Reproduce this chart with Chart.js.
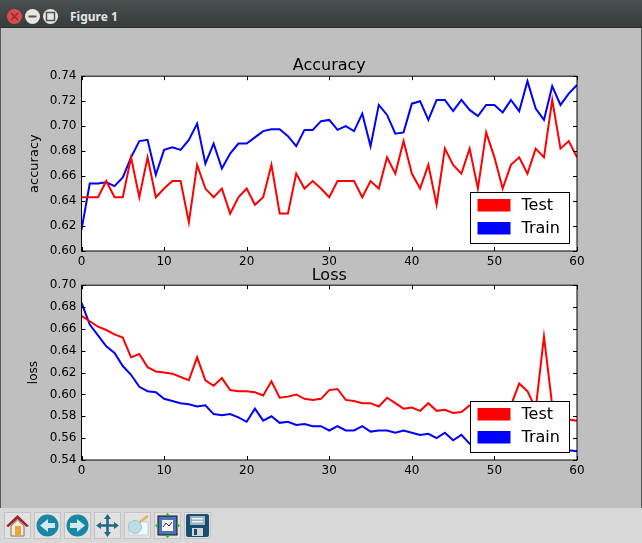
<!DOCTYPE html>
<html>
<head>
<meta charset="utf-8">
<title>Figure 1</title>
<script src="https://cdn.jsdelivr.net/npm/chart.js@4"></script>
<style>
html, body { margin: 0; padding: 0; background: #bfbfbf; }
#win { position: relative; width: 642px; height: 543px; overflow: hidden; background: #bfbfbf; font-family: "DejaVu Sans", sans-serif; }
#bar { position: absolute; left: 0; top: 0; width: 642px; height: 27px; background: linear-gradient(#4a4f4f, #363b3b); border-bottom: 1px solid #2a2d2d; }
#bar .name { position: absolute; left: 70px; top: 8px; color: #e6e6e6; font: bold 12px "Noto Sans", "DejaVu Sans", sans-serif; }
.btn { position: absolute; top: 9px; width: 15px; height: 15px; border-radius: 50%; background: #e8e6e0; }
.btn svg { display: block; width: 15px; height: 15px; }
.edge { position: absolute; top: 28px; width: 1px; height: 515px; background: #555a5a; }
#tools { position: absolute; left: 0; top: 508px; width: 642px; height: 35px; background: #d8d8d8; }
.tool { position: absolute; top: 4px; width: 27px; height: 27px; background: #e2e2e2; border: 1px solid #c4c4c4; box-sizing: border-box; }
.tool svg { display: block; width: 25px; height: 25px; }
canvas { position: absolute; }
#c1 { left: 0; top: 50px; }
#c2 { left: 0; top: 259px; }
</style>
</head>
<body>
<div id="win">
  <div id="bar">
    <div class="btn" style="left:7px;background:#df4a4f"><svg viewBox="0 0 15 15"><path d="M4 4l7 7M11 4l-7 7" stroke="#8c2a2d" stroke-width="1.500"/></svg></div>
    <div class="btn" style="left:25px"><svg viewBox="0 0 15 15"><path d="M3.500 7.500h8" stroke="#555" stroke-width="2"/></svg></div>
    <div class="btn" style="left:43px"><svg viewBox="0 0 15 15"><rect x="3.500" y="3.500" width="8" height="8" fill="none" stroke="#555" stroke-width="1.500"/></svg></div>
    <div class="name">Figure 1</div>
  </div>
  <div class="edge" style="left:0"></div>
  <div class="edge" style="left:641px"></div>
  <canvas id="c1" width="642" height="223" style="width:642px;height:223px"></canvas>
  <canvas id="c2" width="642" height="223" style="width:642px;height:223px"></canvas>
  <div id="tools">
    <div class="tool" style="left:4px"><svg viewBox="0 0 25 25"><path d="M1 13 12.500 2 24 13l-2.500 1-9-8-9 8z" fill="#a5202c"/><path d="M6 13l6.500-6 6.500 6v10H6z" fill="#f3ead8" stroke="#777"/><rect x="10" y="13" width="6" height="10" fill="#eda23c"/></svg></div>
    <div class="tool" style="left:34px"><svg viewBox="0 0 25 25"><circle cx="12.500" cy="12.500" r="11" fill="#1b86a3"/><path d="M5 12.500 13 6v4h7v5h-7v4z" fill="#cfe9ef"/></svg></div>
    <div class="tool" style="left:64px"><svg viewBox="0 0 25 25"><circle cx="12.500" cy="12.500" r="11" fill="#1b86a3"/><path d="M20 12.500 12 6v4H5v5h7v4z" fill="#cfe9ef"/></svg></div>
    <div class="tool" style="left:94px"><svg viewBox="0 0 25 25"><path d="M12.500 1 16 6h-2.200v5.200H19V9l5 3.500-5 3.500v-2.200h-5.200V19H16l-3.500 5L9 19h2.200v-5.200H6V16l-5-3.500L6 9v2.200h5.200V6H9z" fill="#1f6b87"/></svg></div>
    <div class="tool" style="left:124px"><svg viewBox="0 0 25 25"><rect x="4" y="9" width="19" height="13" fill="#f4fafc" stroke="#b8d4de"/><circle cx="10" cy="14" r="6.500" fill="#bcdde8" stroke="#9cc4d2"/><path d="M14 8 22 2l1.500 2-8 6z" fill="#eeaa66"/></svg></div>
    <div class="tool" style="left:154px"><svg viewBox="0 0 25 25"><rect x="3" y="3" width="19" height="19" fill="#4f71b5" stroke="#111"/><rect x="7" y="7" width="11" height="11" fill="#f4f4f4"/><path d="M8 14l3-4 3 3 3-4" fill="none" stroke="#333"/><path d="M12.500 0l3 3h-6zM12.500 25l3-3h-6zM0 12.500l3-3v6zM25 12.500l-3-3v6z" fill="#35b035"/></svg></div>
    <div class="tool" style="left:184px"><svg viewBox="0 0 25 25"><rect x="1" y="1" width="23" height="23" rx="2" fill="#17506f"/><rect x="5" y="3" width="15" height="9" fill="#9fb3c0"/><rect x="7" y="5" width="11" height="1.500" fill="#eef"/><rect x="7" y="8" width="11" height="1.500" fill="#eef"/><rect x="7" y="15" width="11" height="8" fill="#d5d5d5"/><rect x="9" y="16" width="3" height="6" fill="#17506f"/></svg></div>
  </div>
</div>
<script>
// epochs on the x axis
var epochs = [];
for (var e = 0; e <= 60; e++) epochs.push(e);

var seriesNames = ['Test', 'Train'];
var xTicks = [0, 10, 20, 30, 40, 50, 60];
var accTicks = [0.60, 0.62, 0.64, 0.66, 0.68, 0.70, 0.72, 0.74];
var lossTicks = [0.54, 0.56, 0.58, 0.60, 0.62, 0.64, 0.66, 0.68, 0.70];

var accTest = [0.643,0.643,0.643,0.656,0.643,0.643,0.675,0.643,0.675,0.643,
  0.650,0.656,0.656,0.623,0.669,0.650,0.643,0.650,0.630,0.643,
  0.650,0.637,0.643,0.669,0.630,0.630,0.662,0.650,0.656,0.650,
  0.643,0.656,0.656,0.656,0.643,0.656,0.650,0.675,0.662,0.688,
  0.662,0.650,0.669,0.637,0.682,0.669,0.662,0.682,0.650,0.695,
  0.675,0.650,0.669,0.675,0.662,0.682,0.675,0.721,0.682,0.688,0.675];
var accTrain = [0.617,0.654,0.654,0.655,0.652,0.659,0.675,0.688,0.689,0.661,
  0.681,0.683,0.681,0.689,0.702,0.670,0.686,0.666,0.678,0.686,
  0.686,0.691,0.696,0.6975,0.6975,0.692,0.684,0.697,0.697,0.704,
  0.705,0.697,0.700,0.696,0.710,0.684,0.717,0.709,0.694,0.695,
  0.718,0.720,0.705,0.721,0.721,0.712,0.721,0.713,0.708,0.717,
  0.717,0.711,0.721,0.712,0.736,0.714,0.705,0.732,0.717,0.726,0.733];
var lossTest = [0.672,0.667,0.662,0.659,0.655,0.652,0.634,0.637,0.625,0.621,
  0.620,0.619,0.616,0.613,0.634,0.613,0.608,0.615,0.604,0.603,
  0.603,0.602,0.599,0.612,0.597,0.598,0.600,0.596,0.595,0.596,
  0.604,0.605,0.595,0.594,0.592,0.592,0.589,0.597,0.592,0.587,
  0.588,0.585,0.592,0.585,0.586,0.583,0.584,0.590,0.592,0.588,
  0.590,0.586,0.590,0.610,0.603,0.587,0.653,0.590,0.578,0.577,0.576];
var lossTrain = [0.684,0.664,0.654,0.644,0.638,0.626,0.618,0.607,0.603,0.602,
  0.596,0.594,0.592,0.591,0.589,0.590,0.582,0.581,0.582,0.579,
  0.575,0.587,0.576,0.580,0.574,0.575,0.572,0.573,0.571,0.571,
  0.567,0.571,0.567,0.567,0.571,0.566,0.567,0.567,0.565,0.567,
  0.565,0.563,0.564,0.560,0.565,0.558,0.563,0.555,0.550,0.552,
  0.550,0.552,0.552,0.552,0.551,0.552,0.552,0.552,0.551,0.549,0.548];

// white plot area, black frame and inward ticks on all four sides, like matplotlib
var framePlugin = {
    id: 'frame',
    // keep the title centred over the plot, not over the whole canvas
    afterLayout: function(chart) {
        chart.titleBlock.left = chart.chartArea.left;
        chart.titleBlock.right = chart.chartArea.right;
    },
    beforeDatasetsDraw: function(chart) {
        var a = chart.chartArea, ctx = chart.ctx;
        ctx.save();
        ctx.fillStyle = '#fff';
        ctx.fillRect(a.left, a.top, a.right - a.left, a.bottom - a.top);
        ctx.restore();
    },
    afterDatasetsDraw: function(chart) {
        var a = chart.chartArea, ctx = chart.ctx;
        ctx.save();
        ctx.strokeStyle = '#000';
        ctx.lineWidth = 1;
        ctx.beginPath();
        chart.scales.x.ticks.forEach(function(t) {
            var x = Math.round(chart.scales.x.getPixelForValue(t.value)) + 0.5;
            ctx.moveTo(x, a.top); ctx.lineTo(x, a.top + 4);
            ctx.moveTo(x, a.bottom); ctx.lineTo(x, a.bottom - 4);
        });
        chart.scales.y.ticks.forEach(function(t) {
            var y = Math.round(chart.scales.y.getPixelForValue(t.value)) + 0.5;
            ctx.moveTo(a.left, y); ctx.lineTo(a.left + 4, y);
            ctx.moveTo(a.right, y); ctx.lineTo(a.right - 4, y);
        });
        ctx.stroke();
        ctx.strokeRect(a.left, a.top, a.right - a.left, a.bottom - a.top);
        ctx.restore();
    }
};

// boxed legend in the lower right of the plot, swatches are filled patches
var legendPlugin = {
    id: 'boxLegend',
    afterDraw: function(chart) {
        var a = chart.chartArea, ctx = chart.ctx;
        var w = 99, h = 51;
        var x = Math.round(a.right - 8 - w) + 0.5, y = Math.round(a.bottom - 8 - h) + 0.5;
        ctx.save();
        ctx.fillStyle = '#fff';
        ctx.fillRect(x, y, w, h);
        ctx.strokeStyle = '#000';
        ctx.lineWidth = 1;
        ctx.strokeRect(x, y, w, h);
        ctx.font = '16px "DejaVu Sans"';
        ctx.textBaseline = 'middle';
        chart.data.datasets.forEach(function(ds, i) {
            var rowY = y + 13 + i * 23;
            ctx.fillStyle = ds.borderColor;
            ctx.fillRect(x + 7, rowY - 6.5, 33, 12.5);
            ctx.fillStyle = '#000';
            ctx.fillText(ds.label, x + 51, rowY);
        });
        ctx.restore();
    }
};

function makeChart(id, title, yLabel, test, train, yTicks, titleTop, labelSize) {
    return new Chart(document.getElementById(id), {
        type: 'line',
        data: {
            labels: epochs,
            datasets: [
                { label: seriesNames[0], data: test, borderColor: '#ff0000', borderWidth: 2, pointRadius: 0, tension: 0 },
                { label: seriesNames[1], data: train, borderColor: '#0000ff', borderWidth: 2, pointRadius: 0, tension: 0 }
            ]
        },
        options: {
            responsive: false,
            animation: false,
            layout: { padding: { top: 0, right: 65, left: 27, bottom: 0 } },
            plugins: {
                legend: { display: false },
                tooltip: { enabled: false },
                title: {
                    display: true,
                    text: title,
                    color: '#000',
                    font: { family: '"DejaVu Sans"', size: 16, weight: 'normal' },
                    padding: { top: titleTop, bottom: 7 - titleTop }
                }
            },
            scales: {
                x: {
                    type: 'linear',
                    min: 0,
                    max: 60,
                    afterBuildTicks: function(s) { s.ticks = xTicks.map(function(v) { return { value: v }; }); },
                    afterFit: function(s) { s.height = 22; },
                    grid: { display: false, tickLength: 0 },
                    border: { display: false },
                    ticks: { color: '#000', padding: 3.5, maxRotation: 0, autoSkip: false, font: { family: '"DejaVu Sans"', size: 12 } }
                },
                y: {
                    min: yTicks[0],
                    max: yTicks[yTicks.length - 1],
                    afterBuildTicks: function(s) { s.ticks = yTicks.map(function(v) { return { value: v }; }); },
                    afterFit: function(s) { s.width = 54.5; },
                    grid: { display: false, tickLength: 0 },
                    border: { display: false },
                    title: {
                        display: true,
                        text: yLabel,
                        color: '#000',
                        padding: { top: 0, bottom: 8 },
                        font: { family: '"DejaVu Sans"', size: labelSize }
                    },
                    ticks: {
                        color: '#000',
                        padding: 5,
                        autoSkip: false,
                        font: { family: '"DejaVu Sans"', size: 12 },
                        callback: function(v) { return v.toFixed(2); }
                    }
                }
            }
        },
        plugins: [framePlugin, legendPlugin]
    });
}

makeChart('c1', 'Accuracy', 'accuracy', accTest, accTrain, accTicks, 6, 13);
makeChart('c2', 'Loss', 'loss', lossTest, lossTrain, lossTicks, 7, 12);
</script>
</body>
</html>
